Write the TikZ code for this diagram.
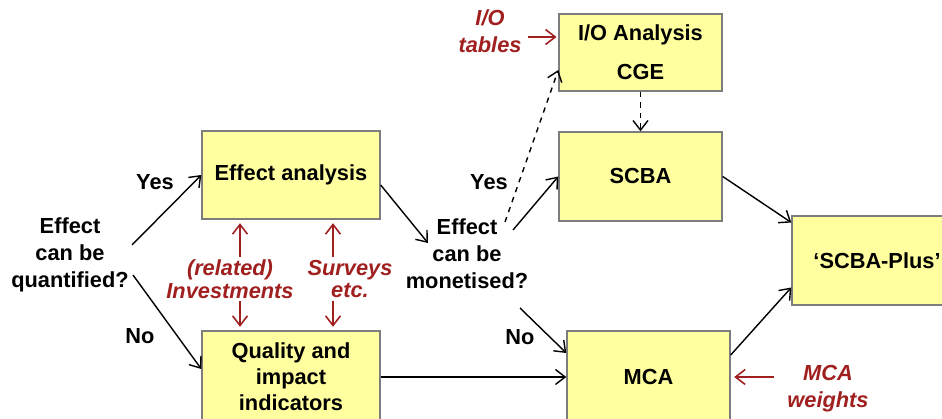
\documentclass[tikz,border=0pt]{standalone}
\usepackage{fontspec}
\setmainfont{Liberation Sans}
\usetikzlibrary{arrows.meta}
\definecolor{boxyellow}{RGB}{255,255,160}
\definecolor{boxgrey}{RGB}{125,125,125}
\definecolor{notered}{RGB}{160,32,32}
\begin{document}
\begin{tikzpicture}[>={Straight Barb[length=5.5pt,width=8.5pt]},
  box/.style={draw=boxgrey, fill=boxyellow, rectangle, align=center, font=\fontsize{12.4}{14.8}\selectfont\bfseries},
  lbl/.style={align=center, inner sep=1pt, font=\fontsize{12.4}{15.3}\selectfont\bfseries},
  note/.style={align=center, inner sep=1pt, text=notered, font=\fontsize{12.4}{13}\selectfont\bfseries\itshape},
  redarrow/.style={->, draw=notered, line width=0.9pt},
  line width=0.8pt]
\useasboundingbox (0,0) rectangle (18.84,-8.38);

\node[box, minimum width=3.56cm, minimum height=1.76cm] (eff) at (5.82,-3.50) {Effect analysis};
\node[box, minimum width=3.56cm, minimum height=1.84cm] (qual) at (5.82,-7.54) {Quality and\\impact\\indicators};
\node[box, minimum width=3.26cm, minimum height=1.54cm] (io) at (12.81,-1.05) {I/O Analysis\\[0.26cm]CGE};
\node[box, minimum width=3.26cm, minimum height=1.78cm] (scba) at (12.81,-3.53) {SCBA};
\node[box, minimum width=3.26cm, minimum height=1.84cm] (mca) at (12.97,-7.54) {MCA};
\node[box, minimum width=3.40cm, minimum height=1.78cm] (plus) at (17.54,-5.21) {`SCBA-Plus'};

\node[lbl] (quant) at (1.40,-5.10) {Effect\\can be\\quantified?};
\node[lbl] (mon) at (9.34,-5.08) {Effect\\can be\\monetised?};
\node[lbl] (yes1) at (3.10,-3.64) {Yes};
\node[lbl] (no1) at (2.80,-6.72) {No};
\node[lbl] (yes2) at (9.78,-3.64) {Yes};
\node[lbl] (no2) at (10.40,-6.74) {No};

\node[note] (inv) at (4.60,-5.58) {(related)\\Investments};
\node[note] (surv) at (7.00,-5.58) {Surveys\\etc.};
\node[note, font=\fontsize{12.4}{15.3}\selectfont\bfseries\itshape] (iot) at (9.80,-0.63) {I/O\\tables};
\node[note, font=\fontsize{12.4}{15.3}\selectfont\bfseries\itshape] (mcw) at (16.56,-7.77) {MCA\\weights};

\coordinate (quanty) at (2.64,-4.90);
\coordinate (quantn) at (2.66,-5.50);
\coordinate (monin) at (8.56,-4.86);
\coordinate (mony) at (10.26,-4.60);
\coordinate (mondash) at (10.10,-4.44);
\coordinate (monn) at (10.40,-6.16);
\coordinate (invx) at (4.80,0);
\coordinate (survx) at (6.66,0);
\coordinate (iotarrow) at (10.56,-0.74);

\draw[->] (quanty) -- (eff.west);
\draw[->] (quantn) -- ([yshift=0.16cm]qual.west);
\draw[->] ([yshift=-0.2cm]eff.east) -- (monin);
\draw[->] (mony) -- (scba.west);
\draw[->, dashed] (mondash) -- ([yshift=-0.35cm]io.west);
\draw[->, dashed] (io.south) -- (scba.north);
\draw[->] (monn) -- ([yshift=0.48cm]mca.west);
\draw[->] (qual.east) -- (mca.west);
\draw[->] (scba.east) -- ([yshift=0.76cm]plus.west);
\draw[->] ([yshift=0.44cm]mca.east) -- ([yshift=-0.54cm]plus.west);

\draw[redarrow, shorten >=2pt] (inv.north -| invx) -- (eff.south -| invx);
\draw[redarrow, shorten >=2pt] (inv.south -| invx) -- (qual.north -| invx);
\draw[redarrow, shorten >=2pt] (surv.north -| survx) -- (eff.south -| survx);
\draw[redarrow, shorten >=2pt] (surv.south -| survx) -- (qual.north -| survx);
\draw[redarrow, shorten >=1pt] (iotarrow) -- (iotarrow -| io.west);
\draw[redarrow, shorten <=6pt] (mcw.west |- mca.east) -- ([xshift=2pt]mca.east);
\end{tikzpicture}
\end{document}
